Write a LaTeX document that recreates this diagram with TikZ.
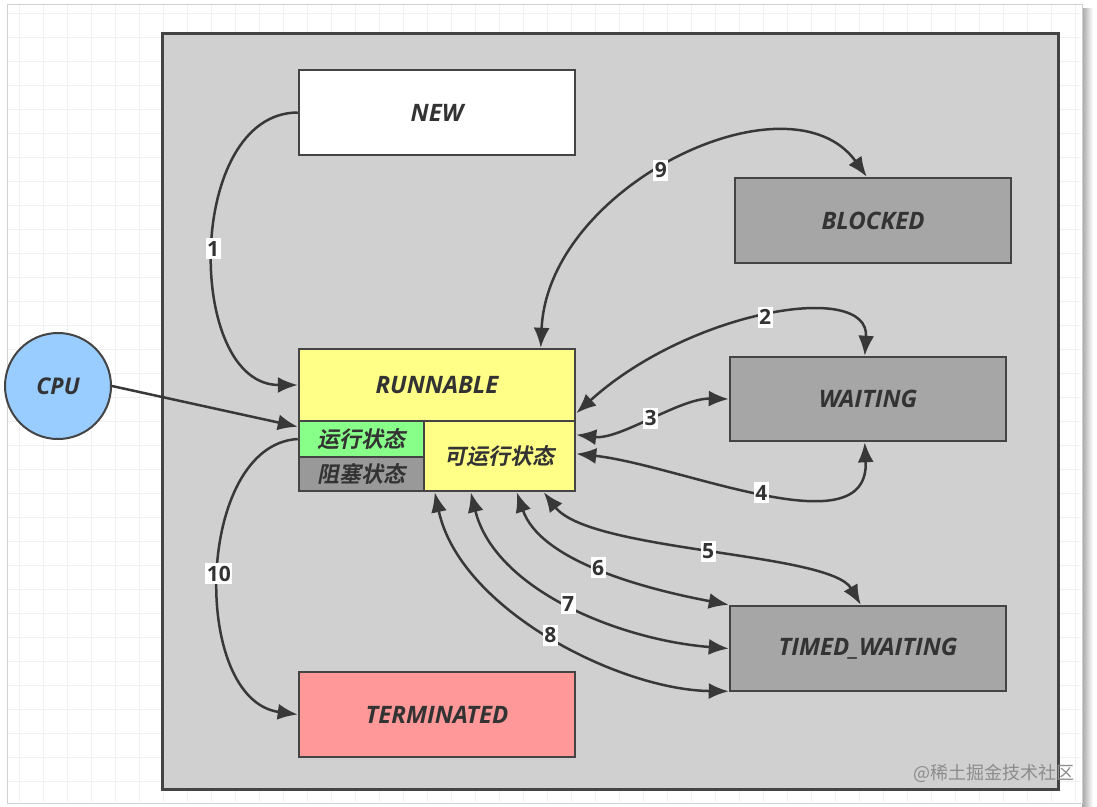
\documentclass[tikz,border=0pt]{standalone}
\usepackage{fontspec}
\setmainfont{Open Sans}
\newfontfamily\cjkbi{Noto Sans CJK SC Bold}[FakeSlant=0.2]
\newfontfamily\cjk{Noto Sans CJK SC}
\usetikzlibrary{arrows.meta,calc}
\definecolor{panel}{HTML}{D0D0D0}
\definecolor{boxline}{HTML}{444444}
\definecolor{arr}{HTML}{383838}
\definecolor{txt}{HTML}{333333}
\definecolor{grayst}{HTML}{A6A6A6}
\definecolor{yel}{HTML}{FFFF88}
\definecolor{grn}{HTML}{88FF88}
\definecolor{blk}{HTML}{999999}
\definecolor{term}{HTML}{FF9999}
\definecolor{cpuc}{HTML}{99CCFF}
\definecolor{gridc}{HTML}{F0F0F0}
\tikzset{
  box/.style={draw=boxline, line width=2.5pt, minimum width=276pt, minimum height=85pt,
    inner sep=0pt, font=\fontsize{24}{28}\selectfont\bfseries\itshape, text=txt},
  sub/.style={draw=boxline, line width=2.5pt, inner sep=0pt,
    font=\fontsize{22}{25}\selectfont\cjkbi, text=txt},
  conn/.style={draw=arr, line width=2.5pt},
  tipb/.style={-{Latex[length=20pt,width=16pt]}},
  tipbb/.style={{Latex[length=20pt,width=16pt]}-{Latex[length=20pt,width=16pt]}},
  lab/.style={fill=white, inner xsep=1.5pt, inner ysep=3pt, font=\fontsize{21}{24}\selectfont\bfseries, text=txt}
}
\begin{document}
\begin{tikzpicture}[x=1pt,y=-1pt]
\useasboundingbox (0,0) rectangle (1097,806);
% page frame, shadow and grid
\fill[white] (0,0) rectangle (1097,806);
\shade[left color=black!35, right color=white] (1082,8) rectangle (1093,806);
\draw[gridc, line width=1pt] (7,4) rectangle (1082,803);
\foreach \x in {19,43,...,1082} \draw[gridc, line width=1pt] (\x,5) -- (\x,802);
\foreach \y in {13,37,...,803} \draw[gridc, line width=1pt] (8,\y) -- (1081,\y);
\draw[black!18, line width=1pt] (7,4) rectangle (1082,803);
% grey panel
\draw[boxline, fill=panel, line width=3pt] (162,33) rectangle (1058,789);

% state boxes
\node[box, fill=white] (new) at (437,112.5) {NEW};
\node[box, fill=grayst] (blocked) at (873,220.5) {BLOCKED};
\node[box, fill=grayst, minimum height=84pt] (waiting) at (868,399) {WAITING};
\node[box, fill=grayst] (timed) at (868,648.5) {TIMED\_WAITING};
\node[box, fill=term] (term) at (437,714.5) {TERMINATED};
\node[box, fill=yel, minimum height=72pt] (run) at (437,385) {RUNNABLE};
\node[sub, fill=grn, minimum width=125pt, minimum height=36pt] (running) at (361.5,439) {运行状态};
\node[sub, fill=blk, minimum width=125pt, minimum height=34pt] (blockst) at (361.5,474) {阻塞状态};
\node[sub, fill=yel, minimum width=151pt, minimum height=70pt] (ready) at (499.5,456) {可运行状态};
\node[circle, draw=boxline, line width=2pt, fill=cpuc, minimum size=106pt, inner sep=0pt,
  font=\fontsize{23}{27}\selectfont\bfseries\itshape, text=txt] (cpu) at (58,386) {CPU};

% connectors
\draw[conn, tipb] (new.west) .. controls (185,113) and (185,385) .. (run.west)
  node[lab, pos=0.5] {1};
\draw[conn, tipb] (cpu.east) -- ($(running.north west)+(0,7)$);
\draw[conn, tipb] (running.west) .. controls (195,445) and (190,700) .. (term.west)
  node[lab, pos=0.5] {10};
\draw[conn, tipbb] ($(run.north west)+(243,0)$) .. controls (548,185) and (790,70) ..
  ($(blocked.north west)+(133,0)$) node[lab, pos=0.46] {9};
\draw[conn, tipbb] ($(run.south east)+(0,-9)$) .. controls (690,310) and (870,280) ..
  ($(waiting.north west)+(136,0)$) node[lab, pos=0.5] {2};
\draw[conn, tipbb] ($(ready.north east)+(0,15)$) .. controls (620,440) and (680,398) ..
  (waiting.west) node[lab, pos=0.5] {3};
\draw[conn, tipbb] ($(ready.north east)+(0,34)$) .. controls (680,465) and (870,550) ..
  ($(waiting.south west)+(136,0)$) node[lab, pos=0.5] {4};
\draw[conn, tipbb] ($(ready.south west)+(121,0)$) .. controls (590,552) and (830,552) ..
  ($(timed.north west)+(132,0)$) node[lab, pos=0.5] {5};
\draw[conn, tipbb] ($(ready.south west)+(94,0)$) .. controls (540,560) and (640,588) ..
  (timed.north west) node[lab, pos=0.5] {6};
\draw[conn, tipbb] ($(ready.south west)+(48,0)$) .. controls (495,590) and (620,640) ..
  (timed.west) node[lab, pos=0.5] {7};
\draw[conn, tipbb] ($(ready.south west)+(12,0)$) .. controls (460,610) and (620,690) ..
  ($(timed.south west)+(0,-1)$) node[lab, pos=0.5] {8};

% watermark
\node[font=\fontsize{18}{20}\selectfont\cjk, text=black!45, anchor=west] (wm) at (910,773) {@稀土掘金技术社区};
\end{tikzpicture}
\end{document}
